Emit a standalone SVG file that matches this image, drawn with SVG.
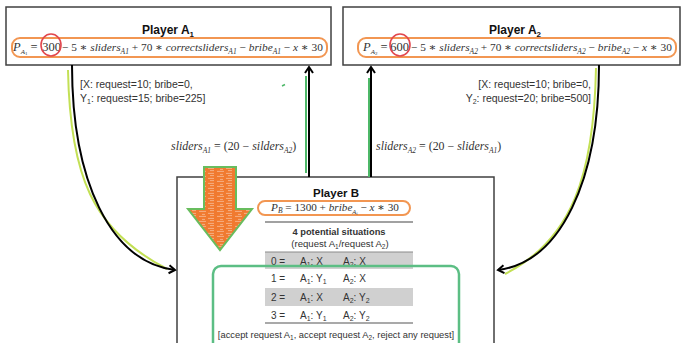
<svg xmlns="http://www.w3.org/2000/svg" width="686" height="343" viewBox="0 0 686 343">
  <style>
    .box { fill: #ffffff; stroke: #404040; stroke-width: 1.5; }
    .pill { fill: none; stroke: #F29652; stroke-width: 2; }
    .ring { fill: none; stroke: #E2474E; stroke-width: 1.6; }
    .title { font-family: "Liberation Sans", Arial, sans-serif; font-weight: bold; fill: #111; }
    .math { font-family: "Liberation Serif", "DejaVu Serif", serif; fill: #333; }
    .it { font-style: italic; }
    .lbl { font-family: "Liberation Sans", Arial, sans-serif; fill: #333; }
    .tbl { font-family: "Liberation Sans", Arial, sans-serif; fill: #333; }
    .wire { fill: none; stroke: #000; stroke-width: 2; }
    .lime { fill: none; stroke: #C3E055; stroke-width: 2; }
    .mint { fill: none; stroke: #4DB868; stroke-width: 2; }
  </style>
  <defs>
    <marker id="chev" markerUnits="userSpaceOnUse" markerWidth="12" markerHeight="12" refX="8" refY="6" orient="auto">
      <path d="M2,2 L8,6 L2,10" fill="none" stroke="#000" stroke-width="2"/>
    </marker>
    <pattern id="scribble" width="18" height="5" patternUnits="userSpaceOnUse">
      <rect width="18" height="5" fill="#F07A30"/>
      <path d="M1,1.4h7 M10,3.4h6 M4,4.4h3 M12,0.6h4" stroke="#ffffff" stroke-opacity="0.5" stroke-width="0.8"/>
    </pattern>
  </defs>

  <!-- Player A1 -->
  <g id="playerA1">
    <rect class="box" x="6" y="7" width="325" height="58"/>
    <text class="title" x="168" y="34" text-anchor="middle" font-size="12">Player A<tspan font-size="8" dy="3">1</tspan></text>
    <rect class="pill" x="12" y="38" width="315" height="19" rx="8"/>
    <text class="math" x="13" y="51" font-size="12.5"><tspan class="it">P</tspan><tspan class="it" font-size="7" dy="3">A</tspan><tspan font-size="5" dy="1">1</tspan><tspan dy="-4" dx="3">=</tspan></text>
    <text class="math" x="51.5" y="51" text-anchor="middle" font-size="12.5">300</text>
    <ellipse class="ring" cx="51" cy="45" rx="10" ry="11"/>
    <text class="math" x="62" y="51" font-size="11.35">− 5 ∗ <tspan class="it">sliders</tspan><tspan class="it" font-size="7.5" dy="3">A1</tspan><tspan dy="-3"> + 70 ∗ </tspan><tspan class="it">correctsliders</tspan><tspan class="it" font-size="7.5" dy="3">A1</tspan><tspan dy="-3"> − </tspan><tspan class="it">bribe</tspan><tspan class="it" font-size="7.5" dy="3">A1</tspan><tspan dy="-3"> − </tspan><tspan class="it">x</tspan> ∗ 30</text>
  </g>

  <!-- Player A2 -->
  <g id="playerA2">
    <rect class="box" x="343" y="7" width="337" height="58"/>
    <text class="title" x="515" y="34" text-anchor="middle" font-size="12">Player A<tspan font-size="8" dy="3">2</tspan></text>
    <rect class="pill" x="358" y="38" width="318" height="19" rx="8"/>
    <text class="math" x="363" y="51" font-size="12.5"><tspan class="it">P</tspan><tspan class="it" font-size="7" dy="3">A</tspan><tspan font-size="5" dy="1">2</tspan><tspan dy="-4" dx="3">=</tspan></text>
    <text class="math" x="399.5" y="51" text-anchor="middle" font-size="12.5">600</text>
    <ellipse class="ring" cx="400" cy="45" rx="10" ry="11"/>
    <text class="math" x="411" y="51" font-size="11.35">− 5 ∗ <tspan class="it">sliders</tspan><tspan class="it" font-size="7.5" dy="3">A2</tspan><tspan dy="-3"> + 70 ∗ </tspan><tspan class="it">correctsliders</tspan><tspan class="it" font-size="7.5" dy="3">A2</tspan><tspan dy="-3"> − </tspan><tspan class="it">bribe</tspan><tspan class="it" font-size="7.5" dy="3">A2</tspan><tspan dy="-3"> − </tspan><tspan class="it">x</tspan> ∗ 30</text>
  </g>

  <!-- Player B -->
  <g id="playerB">
    <rect class="box" x="177" y="177" width="317" height="180"/>
    <path d="M204,167 L236,167 L236,209 L252,209 L220,250 L188,209 L204,209 Z" fill="url(#scribble)" stroke="#68BD5E" stroke-width="2"/>
    <text class="title" x="336" y="197" text-anchor="middle" font-size="11.5">Player B</text>
    <rect class="pill" x="258" y="201" width="152" height="14" rx="7"/>
    <text class="math" x="335" y="211" font-size="11.2" text-anchor="middle"><tspan class="it">P</tspan><tspan class="it" font-size="7.5" dy="2">B</tspan><tspan dy="-2"> = 1300 + </tspan><tspan class="it">bribe</tspan><tspan class="it" font-size="6.5" dy="3">A</tspan><tspan class="it" font-size="4.5" dy="1">i</tspan><tspan dy="-4"> − </tspan><tspan class="it">x</tspan> ∗ 30</text>
    <line x1="265" y1="222" x2="413" y2="222" stroke="#444" stroke-width="1.2"/>
    <text class="tbl" x="339" y="235" text-anchor="middle" font-weight="bold" font-size="9.3">4 potential situations</text>
    <text class="tbl" x="340" y="247" text-anchor="middle" font-size="9.6">(request A<tspan font-size="6.5" dy="2">1</tspan><tspan dy="-2">/request A</tspan><tspan font-size="6.5" dy="2">2</tspan><tspan dy="-2">)</tspan></text>
    <rect x="265" y="252" width="148" height="17" fill="#D0D0D0"/>
    <rect x="265" y="288" width="148" height="18" fill="#D0D0D0"/>
    <line x1="265" y1="252" x2="413" y2="252" stroke="#8A8A8A" stroke-width="1"/>
    <line x1="265" y1="323" x2="413" y2="323" stroke="#555" stroke-width="1.2"/>
    <g font-size="10">
      <text class="tbl" x="271" y="265">0 =</text>
      <text class="tbl" x="300" y="265">A<tspan font-size="7" dy="2">1</tspan><tspan dy="-2">: X</tspan></text>
      <text class="tbl" x="343" y="265">A<tspan font-size="7" dy="2">2</tspan><tspan dy="-2">: X</tspan></text>
      <text class="tbl" x="271" y="282">1 =</text>
      <text class="tbl" x="300" y="282">A<tspan font-size="7" dy="2">1</tspan><tspan dy="-2">: Y</tspan><tspan font-size="7" dy="2">1</tspan></text>
      <text class="tbl" x="343" y="282">A<tspan font-size="7" dy="2">2</tspan><tspan dy="-2">: X</tspan></text>
      <text class="tbl" x="271" y="301">2 =</text>
      <text class="tbl" x="300" y="301">A<tspan font-size="7" dy="2">1</tspan><tspan dy="-2">: X</tspan></text>
      <text class="tbl" x="343" y="301">A<tspan font-size="7" dy="2">2</tspan><tspan dy="-2">: Y</tspan><tspan font-size="7" dy="2">2</tspan></text>
      <text class="tbl" x="271" y="319">3 =</text>
      <text class="tbl" x="300" y="319">A<tspan font-size="7" dy="2">1</tspan><tspan dy="-2">: Y</tspan><tspan font-size="7" dy="2">1</tspan></text>
      <text class="tbl" x="343" y="319">A<tspan font-size="7" dy="2">2</tspan><tspan dy="-2">: Y</tspan><tspan font-size="7" dy="2">2</tspan></text>
    </g>
    <text class="tbl" x="336" y="338" text-anchor="middle" font-size="9.35">[accept request A<tspan font-size="6.5" dy="2">1</tspan><tspan dy="-2">, accept request A</tspan><tspan font-size="6.5" dy="2">2</tspan><tspan dy="-2">, reject any request]</tspan></text>
    <rect x="213" y="266" width="246" height="100" rx="8" fill="none" stroke="#5CBE84" stroke-width="2.5"/>
  </g>

  <!-- Connectors -->
  <g id="connectors">
    <path class="lime" d="M68,70 C70,175 92,230 167,269"/>
    <path class="wire" d="M72,65 C72,180 110,262 175,270" marker-end="url(#chev)"/>
    <path class="lime" d="M596,68 C594,175 572,240 505,274"/>
    <path class="wire" d="M599,65 C599,180 561,262 498,270" marker-end="url(#chev)"/>
    <line class="mint" x1="306" y1="76" x2="306" y2="173"/>
    <line class="wire" x1="309" y1="177" x2="309" y2="67" marker-end="url(#chev)"/>
    <line class="mint" x1="369" y1="78" x2="369" y2="177"/>
    <line class="wire" x1="371" y1="177" x2="371" y2="67" marker-end="url(#chev)"/>
    <path d="M282,86 L285,84.5" stroke="#4DB868" stroke-width="1.5"/>

    <text class="lbl" x="80" y="88" font-size="10.5">[X: request=10; bribe=0,</text>
    <text class="lbl" x="80" y="102" font-size="10.5">Y<tspan font-size="7" dy="2">1</tspan><tspan dy="-2">: request=15; bribe=225]</tspan></text>
    <text class="lbl" x="591" y="88" text-anchor="end" font-size="10.5">[X: request=10; bribe=0,</text>
    <text class="lbl" x="591" y="102" text-anchor="end" font-size="10.5">Y<tspan font-size="7" dy="2">2</tspan><tspan dy="-2">: request=20; bribe=500]</tspan></text>

    <text class="math" x="171" y="150" font-size="11.9"><tspan class="it">sliders</tspan><tspan class="it" font-size="7.5" dy="3">A1</tspan><tspan dy="-3"> = (20 − </tspan><tspan class="it">silders</tspan><tspan class="it" font-size="7.5" dy="3">A2</tspan><tspan dy="-3">)</tspan></text>
    <text class="math" x="376" y="150" font-size="11.9"><tspan class="it">sliders</tspan><tspan class="it" font-size="7.5" dy="3">A2</tspan><tspan dy="-3"> = (20 − </tspan><tspan class="it">sliders</tspan><tspan class="it" font-size="7.5" dy="3">A1</tspan><tspan dy="-3">)</tspan></text>
  </g>
</svg>
